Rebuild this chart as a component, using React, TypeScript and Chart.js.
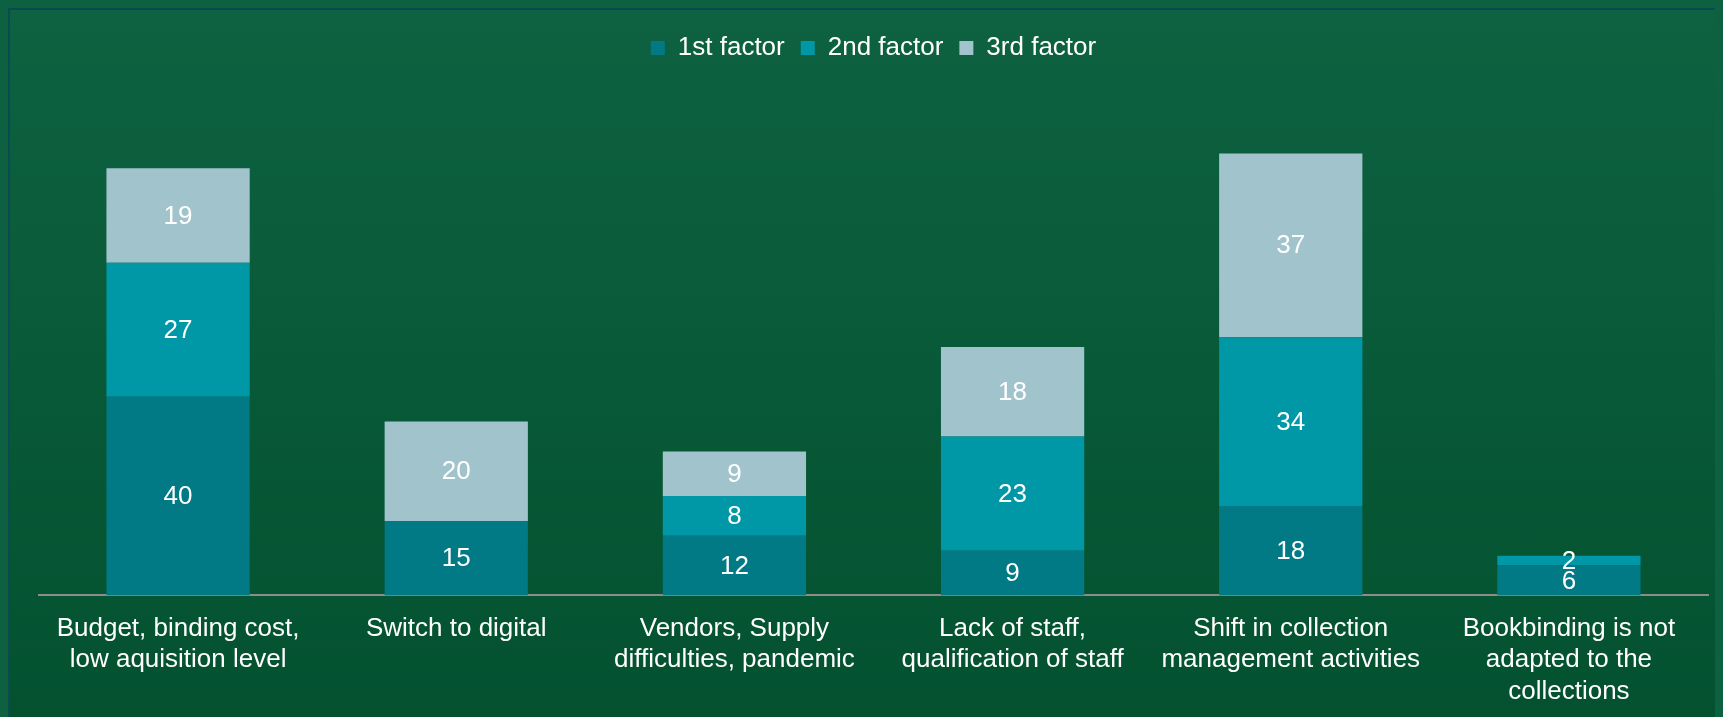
import React, { useEffect, useRef } from "react";
import { Chart, registerables } from "chart.js";

Chart.register(...registerables);

const categories: string[][] = [
  ["Budget, binding cost,", "low aquisition level"],
  ["Switch to digital"],
  ["Vendors, Supply", "difficulties, pandemic"],
  ["Lack of staff,", "qualification of staff"],
  ["Shift in collection", "management activities"],
  ["Bookbinding is not", "adapted to the", "collections"],
];

const firstFactor: (number | null)[] = [40, 15, 12, 9, 18, 6];
const secondFactor: (number | null)[] = [27, null, 8, 23, 34, 2];
const thirdFactor: (number | null)[] = [19, 20, 9, 18, 37, null];

const seriesNames = ["1st factor", "2nd factor", "3rd factor"];
const seriesColors = ["#017A85", "#0097A7", "#A1C4CC"];

const FONT = "'Liberation Sans', Arial, Helvetica, sans-serif";

const valueLabels = {
  id: "valueLabels",
  afterDatasetsDraw(chart: any) {
    const ctx = chart.ctx;
    ctx.save();
    ctx.font = `26px ${FONT}`;
    ctx.fillStyle = "#ffffff";
    ctx.textAlign = "center";
    ctx.textBaseline = "middle";
    chart.data.datasets.forEach((ds: any, di: number) => {
      const meta = chart.getDatasetMeta(di);
      meta.data.forEach((bar: any, i: number) => {
        const v = ds.data[i];
        if (v === null || v === undefined) return;
        const p = bar.getProps(["x", "y", "base"], true);
        ctx.fillText(String(v), p.x, (p.y + p.base) / 2 + 1);
      });
    });
    ctx.restore();
  },
};

export default function App() {
  const canvasRef = useRef<HTMLCanvasElement | null>(null);

  useEffect(() => {
    document.body.style.background = "#0d6140";
    document.body.style.overflow = "hidden";
    const canvas = canvasRef.current;
    if (!canvas) return;
    const data = [firstFactor, secondFactor, thirdFactor];
    const chart = new Chart(canvas, {
      type: "bar",
      data: {
        labels: categories,
        datasets: data.map((d, i) => ({
          label: seriesNames[i],
          data: d,
          backgroundColor: seriesColors[i],
          borderWidth: 0,
          categoryPercentage: 1,
          barPercentage: 0.515,
        })),
      },
      options: {
        responsive: false,
        animation: false,
        devicePixelRatio: 1,
        layout: { padding: { left: 29, right: 15, top: 9, bottom: 0 } },
        plugins: {
          legend: {
            display: true,
            position: "top",
            labels: {
              color: "#ffffff",
              font: { family: FONT, size: 26 },
              boxWidth: 14,
              boxHeight: 14,
              padding: 16,
            },
          },
          tooltip: { enabled: false },
        },
        scales: {
          x: {
            stacked: true,
            grid: { display: false },
            border: { display: true, color: "#8c8c8c", width: 2 },
            ticks: {
              color: "#ffffff",
              font: { family: FONT, size: 26, lineHeight: 1.2 },
              maxRotation: 0,
              autoSkip: false,
              padding: 10,
            },
          },
          y: {
            stacked: true,
            display: false,
            min: 0,
            max: 105.6,
          },
        },
      },
      plugins: [valueLabels],
    });
    return () => chart.destroy();
  }, []);

  return (
    <div
      style={{
        width: 1715,
        height: 709,
        boxSizing: "border-box",
        borderTop: "2px solid #0b4a52",
        borderLeft: "2px solid #0b4a52",
        background: "linear-gradient(to bottom, #0e6241 0%, #03512f 100%)",
      }}
    >
      <canvas ref={canvasRef} width={1713} height={707} style={{ display: "block" }} />
    </div>
  );
}
